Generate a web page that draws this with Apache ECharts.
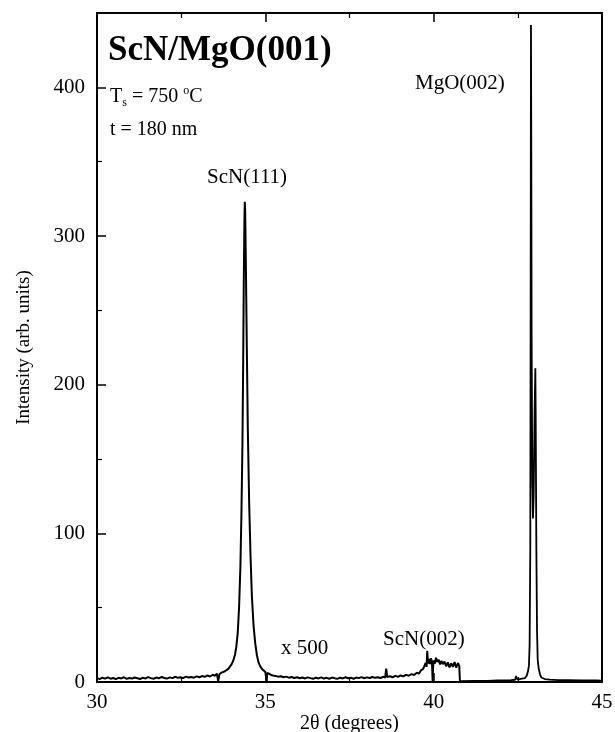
<!DOCTYPE html>
<html>
<head>
<meta charset="utf-8">
<title>ScN/MgO(001)</title>
<script src="https://cdn.jsdelivr.net/npm/echarts@6/dist/echarts.min.js"></script>
<style>
    html, body { margin: 0; padding: 0; background: #fff; }
    #chart { width: 615px; height: 732px; }
</style>
</head>
<body>
<div id="chart"></div>
<script>
// 2theta scan, low-angle part (ScN(111) and the x500 ScN(002) region)
var scanScN = [
    [30.00,2.6],[30.08,2.0],[30.16,2.9],[30.24,2.3],[30.32,3.1],[30.40,2.2],[30.48,2.7],[30.56,1.9],
    [30.64,2.8],[30.72,2.4],[30.80,3.2],[30.88,2.1],[30.96,2.7],[31.04,2.3],[31.12,3.0],[31.20,2.5],
    [31.28,2.0],[31.36,2.9],[31.44,2.4],[31.52,3.3],[31.60,2.6],[31.68,2.2],[31.76,3.0],[31.84,2.5],
    [31.92,3.4],[32.00,2.7],[32.08,2.3],[32.16,3.1],[32.24,2.6],[32.32,3.5],[32.40,2.8],[32.48,3.2],
    [32.56,2.6],[32.64,3.6],[32.72,3.0],[32.80,3.4],[32.88,2.9],[32.96,3.8],[33.04,3.2],[33.12,4.0],
    [33.20,3.5],[33.28,4.4],[33.36,3.7],[33.44,4.9],[33.50,4.2],[33.56,5.6],[33.60,0.6],[33.64,5.4],
    [33.70,6.3],[33.75,5.6],[33.80,7.2],[33.85,6.9],[33.90,8.8],[33.95,10.0],[34.00,12.0],[34.05,14.5],
    [34.10,18.5],[34.14,24.0],[34.18,33.0],[34.22,50.0],[34.26,78.0],[34.29,113.0],[34.32,160.0],
    [34.34,210.0],[34.36,270.0],[34.38,312.0],[34.39,323.0],[34.40,318.0],[34.42,285.0],[34.45,225.0],
    [34.48,170.0],[34.52,120.0],[34.56,85.0],[34.60,58.0],[34.65,38.0],[34.70,26.0],[34.75,18.0],
    [34.80,13.0],[34.85,10.5],[34.90,8.8],[34.95,7.6],[35.00,6.8],[35.04,0.4],[35.06,6.2],[35.10,5.6],
    [35.16,4.9],[35.22,4.4],[35.30,4.1],[35.38,3.6],[35.46,3.9],[35.54,3.2],[35.62,3.6],[35.70,2.9],
    [35.78,3.4],[35.86,2.7],[35.94,3.2],[36.02,2.5],[36.10,3.0],[36.18,2.4],[36.26,3.1],[36.34,2.6],
    [36.42,2.2],[36.50,2.9],[36.58,2.4],[36.66,3.1],[36.74,2.3],[36.82,2.8],[36.90,2.2],[36.98,3.0],
    [37.06,2.5],[37.14,2.1],[37.22,2.9],[37.30,2.4],[37.38,3.2],[37.46,2.5],[37.54,2.9],[37.62,2.2],
    [37.70,3.0],[37.78,2.6],[37.86,3.3],[37.94,2.5],[38.02,3.1],[38.10,2.7],[38.18,3.4],[38.26,2.8],
    [38.34,3.2],[38.42,2.7],[38.50,3.5],[38.56,3.0],[38.59,9.0],[38.62,3.3],[38.70,3.9],[38.78,3.2],
    [38.86,4.1],[38.94,3.5],[39.02,4.4],[39.10,3.8],[39.18,4.8],[39.26,4.2],[39.34,5.3],[39.42,4.7],
    [39.50,6.2],[39.56,5.6],[39.62,7.8],[39.68,8.6],[39.72,10.5],[39.76,12.8],[39.79,10.2],[39.81,21.0],
    [39.83,12.5],[39.86,15.5],[39.89,12.0],[39.92,16.0],[39.95,13.0],[39.97,0.4],[39.99,14.5],
    [40.03,12.2],[40.07,16.3],[40.11,13.5],[40.15,15.0],[40.19,11.8],[40.23,14.2],[40.27,12.0],
    [40.32,13.8],[40.37,10.6],[40.42,13.2],[40.47,9.8],[40.52,12.6],[40.57,10.2],[40.62,13.4],
    [40.67,9.6],[40.72,12.8],[40.76,10.8],[40.78,0.6]
];

// high-angle part with the MgO(002) substrate doublet
var scanMgO = [
    [40.78,0.6],[41.20,0.7],[41.60,0.8],[41.90,1.0],[42.10,1.1],[42.30,1.3],[42.42,1.5],[42.45,4.0],
    [42.48,1.8],[42.55,2.0],[42.62,2.3],[42.71,2.6],[42.76,4.0],[42.80,7.0],[42.83,11.0],[42.85,25.0],
    [42.87,90.0],[42.88,250.0],[42.89,442.0],[42.90,360.0],[42.91,230.0],[42.93,135.0],[42.95,110.0],
    [42.97,125.0],[43.00,185.0],[43.02,211.0],[43.03,180.0],[43.05,90.0],[43.07,35.0],[43.09,15.0],
    [43.12,9.0],[43.16,5.0],[43.20,3.0],[43.30,2.0],[43.45,1.6],[43.70,1.3],[44.00,1.2],[44.40,1.0],
    [44.80,1.0],[45.00,0.9]
];

var xTicks = [30, 35, 40, 45];
var yTicks = [0, 100, 200, 300, 400];

var serif = 'Liberation Serif';

window.onload = function () {
    var chart = echarts.init(document.getElementById('chart'));

    var baseAxis = {
        type: 'value',
        axisLine: { show: true, onZero: false, lineStyle: { color: '#000', width: 2 } },
        axisTick: { show: true, inside: true, length: 9, lineStyle: { color: '#000', width: 1.5 } },
        minorTick: { show: true, splitNumber: 2, length: 5, lineStyle: { color: '#000', width: 1.2 } },
        splitLine: { show: false },
        minorSplitLine: { show: false }
    };

    var option = {
        backgroundColor: '#fff',
        animation: false,
        textStyle: { fontFamily: serif },
        grid: { left: 97, right: 13, top: 13, bottom: 50, containLabel: false, outerBoundsMode: 'none' },
        xAxis: [
            echarts.util.merge({
                position: 'bottom',
                min: xTicks[0], max: xTicks[xTicks.length - 1], interval: 5,
                name: '2\u03b8 (degrees)',
                nameLocation: 'middle',
                nameGap: 32,
                nameMoveOverlap: false,
                nameTextStyle: { fontFamily: serif, fontSize: 20, color: '#000' },
                axisLabel: { fontFamily: serif, fontSize: 21, color: '#000', margin: 10 }
            }, baseAxis, true),
            echarts.util.merge({
                position: 'top',
                min: xTicks[0], max: xTicks[xTicks.length - 1], interval: 5,
                axisLabel: { show: false }
            }, baseAxis, true)
        ],
        yAxis: [
            echarts.util.merge({
                position: 'left',
                min: yTicks[0], max: 450, interval: 100,
                name: 'Intensity (arb. units)',
                nameLocation: 'middle',
                nameGap: 63,
                nameMoveOverlap: false,
                nameTextStyle: { fontFamily: serif, fontSize: 19, color: '#000' },
                axisLabel: {
                    fontFamily: serif, fontSize: 21, color: '#000', margin: 12,
                    showMaxLabel: false
                }
            }, baseAxis, true),
            {
                type: 'value',
                position: 'right',
                min: 0, max: 450,
                axisLine: { show: true, lineStyle: { color: '#000', width: 2 } },
                axisTick: { show: false },
                axisLabel: { show: false },
                splitLine: { show: false }
            }
        ],
        series: [
            {
                name: 'ScN',
                type: 'line',
                data: scanScN,
                showSymbol: false,
                symbol: 'none',
                lineStyle: { color: '#000', width: 2 },
                z: 3
            },
            {
                name: 'MgO',
                type: 'line',
                data: scanMgO,
                showSymbol: false,
                symbol: 'none',
                lineStyle: { color: '#000', width: 1.8 },
                z: 3
            }
        ],
        graphic: [
            {
                type: 'text', left: 108, top: 33,
                style: { text: 'ScN/MgO(001)', font: 'bold 35px "Liberation Serif"', fill: '#000' }
            },
            {
                type: 'text', left: 110, top: 85,
                style: {
                    text: '{m|T}{sub|s}{m| = 750 }{sup|o}{m|C}',
                    fill: '#000',
                    rich: {
                        m: { fontFamily: serif, fontSize: 20, lineHeight: 24, verticalAlign: 'middle' },
                        sub: { fontFamily: serif, fontSize: 12, lineHeight: 12, verticalAlign: 'bottom' },
                        sup: { fontFamily: serif, fontSize: 12, lineHeight: 12, verticalAlign: 'top' }
                    }
                }
            },
            {
                type: 'text', left: 110, top: 120,
                style: { text: 't = 180 nm', font: '20px "Liberation Serif"', fill: '#000' }
            },
            {
                type: 'text', left: 207, top: 167,
                style: { text: 'ScN(111)', font: '21px "Liberation Serif"', fill: '#000' }
            },
            {
                type: 'text', left: 415, top: 73,
                style: { text: 'MgO(002)', font: '21px "Liberation Serif"', fill: '#000' }
            },
            {
                type: 'text', left: 281, top: 638,
                style: { text: 'x 500', font: '21px "Liberation Serif"', fill: '#000' }
            },
            {
                type: 'text', left: 383, top: 629,
                style: { text: 'ScN(002)', font: '21px "Liberation Serif"', fill: '#000' }
            }
        ]
    };

    chart.setOption(option);
};
</script>
</body>
</html>
